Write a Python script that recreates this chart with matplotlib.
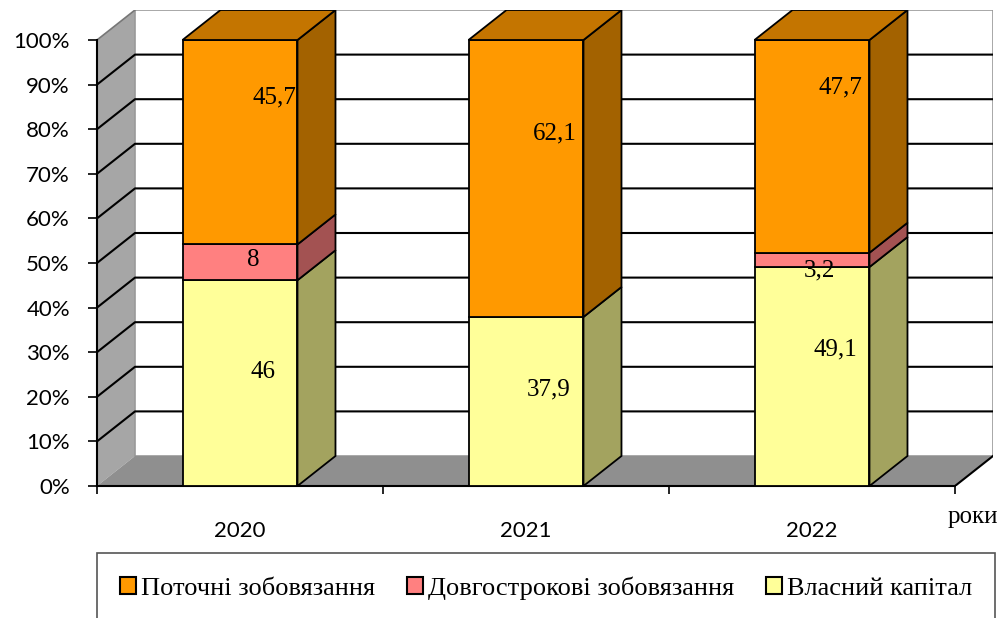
import matplotlib
matplotlib.use("Agg")
import matplotlib.pyplot as plt
from matplotlib.patches import Polygon, Rectangle, Patch
import numpy as np

# дані
roky = ['2020', '2021', '2022']
vlasnyi_kapital = [46, 37.9, 49.1]
dovgostrokovi = [8, 0, 3.2]
potochni = [45.7, 62.1, 47.7]

seriyi = ['Власний капітал', 'Довгострокові зобовязання', 'Поточні зобовязання']
znachennya = [vlasnyi_kapital, dovgostrokovi, potochni]
pidpysy = [['46', '37,9', '49,1'], ['8', '', '3,2'], ['45,7', '62,1', '47,7']]

# кольори: передня грань, бокова, верх
kolory = [('#FFFF99', '#A3A35F', '#C4C47A'),
          ('#FF8080', '#A35252', '#C46262'),
          ('#FF9900', '#A36200', '#C47500')]

# зміщення підписів відносно центру сегмента (x у категоріях, y у %)
zsuv_pidpysiv = [[(0.08, 2.6), (0.08, 2.6), (0.08, 6.0)],
                 [(0.045, 0.6), (0, 0), (0.025, -2.4)],
                 [(0.12, 10.0), (0.1, 10.2), (0.1, 13.2)]]

W, H = 1008, 618
fig = plt.figure(figsize=(W / 100, H / 100), dpi=100)

D = 38 / 286      # глибина по x (категорії)
E = 30 / 4.46     # глибина по y (%)
shyryna = 0.402

ax = fig.add_axes([97 / W, (H - 486) / H, (993 - 97) / W, (486 - 10) / H])
ax.set_xlim(-0.5, 2.5 + D)
ax.set_ylim(0, 100 + E)

# бічна стінка
ax.add_patch(Polygon([(-0.5, 0), (-0.5, 100), (-0.5 + D, 100 + E), (-0.5 + D, E)],
                     closed=True, facecolor='#A6A6A6', edgecolor='none', zorder=1))
# задня стінка
ax.add_patch(Rectangle((-0.5 + D, E), 3, 100, facecolor='white', edgecolor='#999999',
                       lw=1.2, zorder=1))
ax.plot([-0.5, -0.5 + D], [100, 100 + E], color='#777777', lw=1.2, zorder=2)

# лінії сітки
for v in range(10, 100, 10):
    ax.plot([-0.5, -0.5 + D, 2.5 + D], [v, v + E, v + E], color='black', lw=1.5, zorder=2)

# підлога
ax.add_patch(Polygon([(-0.5, 0), (2.5, 0), (2.5 + D, E), (-0.5 + D, E)],
                     closed=True, facecolor='#8F8F8F', edgecolor='none', zorder=2))
ax.plot([2.5, 2.5 + D], [0, E], color='black', lw=1.5, zorder=3)

# стовпці
x = np.arange(len(roky))
for i in range(len(roky)):
    suma = sum(z[i] for z in znachennya)
    niz = 0
    verkh_ind = max(k for k in range(3) if znachennya[k][i] > 0)
    for k in range(3):
        h = znachennya[k][i] / suma * 100
        if h <= 0:
            continue
        l, r = x[i] - shyryna / 2, x[i] + shyryna / 2
        front, side, top = kolory[k]
        ax.add_patch(Rectangle((l, niz), shyryna, h, facecolor=front,
                               edgecolor='black', lw=1.3, zorder=5))
        ax.add_patch(Polygon([(r, niz), (r + D, niz + E), (r + D, niz + h + E), (r, niz + h)],
                             closed=True, facecolor=side, edgecolor='black', lw=1.3, zorder=5))
        if k == verkh_ind:
            ax.add_patch(Polygon([(l, niz + h), (r, niz + h), (r + D, niz + h + E), (l + D, niz + h + E)],
                                 closed=True, facecolor=top, edgecolor='black', lw=1.3, zorder=5))
        if pidpysy[k][i]:
            dx, dy = zsuv_pidpysiv[k][i]
            ax.text(x[i] + dx, niz + h / 2 + dy, pidpysy[k][i], ha='center', va='center',
                    fontsize=18, family='Liberation Serif', zorder=6)
        niz += h

# осі
for s in ['top', 'right']:
    ax.spines[s].set_visible(False)
ax.spines['left'].set_bounds(0, 100)
ax.spines['bottom'].set_bounds(-0.5, 2.5)
ax.spines['left'].set_linewidth(1.5)
ax.spines['bottom'].set_linewidth(1.5)
ax.spines['left'].set_zorder(4)
ax.spines['bottom'].set_zorder(4)

ax.set_yticks(range(0, 101, 10))
ax.set_yticklabels([f'{v}%' for v in range(0, 101, 10)], family='Lato', fontsize=16)
ax.tick_params(axis='y', length=6.5, width=1.2, pad=13)
ax.set_xticks(x)
ax.set_xticklabels(roky, family='Lato', fontsize=16)
ax.set_xticks([-0.5, 0.5, 1.5, 2.5], minor=True)
ax.tick_params(axis='x', which='major', length=0, pad=25)
ax.tick_params(axis='x', which='minor', length=6, width=1.2)

fig.text(973 / W, 1 - 517 / H, 'роки', ha='center', va='center',
         fontsize=18, family='Liberation Serif')

# легенда
fig.patches.append(Rectangle((97 / W, -0.05), (995 - 97) / W, 0.05 + (H - 553) / H,
                             transform=fig.transFigure, facecolor='white',
                             edgecolor='#555555', lw=1.2))
ruchky = [Patch(facecolor=kolory[k][0], edgecolor='black', lw=1.5) for k in [2, 1, 0]]
fig.legend(ruchky, [seriyi[k] for k in [2, 1, 0]], loc='center',
           bbox_to_anchor=(546 / W, 1 - 588 / H), ncol=3, frameon=False,
           prop={'family': 'Liberation Serif', 'size': 19},
           handlelength=0.6, handleheight=0.6, handletextpad=0.2, columnspacing=1.2)

fig.savefig('out.png', dpi=100)
